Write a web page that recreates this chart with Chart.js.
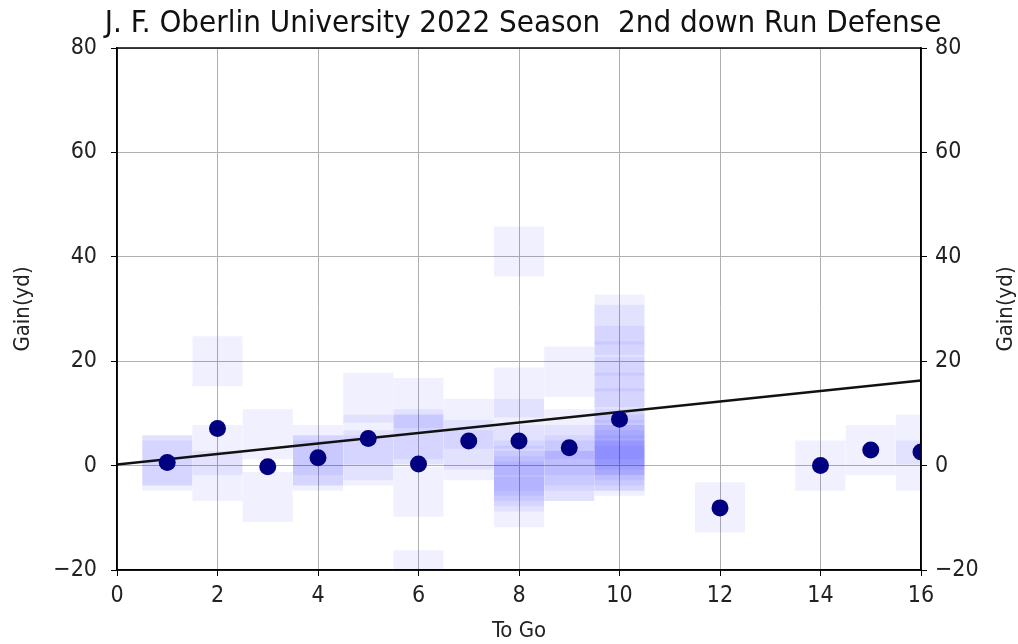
<!DOCTYPE html>
<html>
<head>
<meta charset="utf-8">
<script src="https://cdn.jsdelivr.net/npm/chart.js@4"></script>
<style>
body { margin: 0; background: #fff; }
#wrap { width: 1018px; height: 644px; }
</style>
</head>
<body>
<div id="wrap"><canvas id="runChart" width="1018" height="644"></canvas></div>
<script>
// each play: yards to go and gain
var playToGo = [1, 1, 1,
    2, 2, 2,
    3, 3,
    4, 4, 4, 4,
    5, 5, 5, 5,
    6, 6, 6, 6, 6, 6,
    7, 7, 7,
    8, 8, 8, 8, 8, 8, 8, 8, 8, 8,
    9, 9, 9, 9, 9, 9, 9,
    10, 10, 10, 10, 10, 10, 10, 10, 10, 10, 10, 10, 10, 10, 10, 10, 10,
    12, 14, 15, 16, 16];
var playGain = [1, 1, 0,
    20, 3, -2,
    6, -6,
    3, 1, 1, 0,
    13, 5, 2, 1,
    12, 6, 5, 5, -5, -21,
    8, 4, 2,
    41, 14, 8, 3, 0, -1, -2, -3, -4, -7,
    18, 6, 3, 1, 0, -2, -2,
    28, 26, 22, 19, 16, 13, 10, 6, 5, 4, 3, 3, 2, 1, 0, 0, -1,
    -8, 0, 3, 5, 0];

// average gain per distance
var meanToGo = [1, 2, 3, 4, 5, 6, 7, 8, 9, 10, 12, 14, 15, 16];
var meanGain = [0.6, 7.1, -0.2, 1.5, 5.2, 0.3, 4.7, 4.7, 3.4, 8.9, -8.1, 0, 3, 2.6];

// fitted line end points
var fitToGo = [0, 16];
var fitGain = [0.2, 16.3];

var xTicks = [0, 2, 4, 6, 8, 10, 12, 14, 16];
var yTicks = [-20, 0, 20, 40, 60, 80];

var chartTitle = 'J. F. Oberlin University 2022 Season  2nd down Run Defense';
var FONT = "'DejaVu Sans Condensed', 'DejaVu Sans', sans-serif";

function toPoints(xs, ys) {
    return xs.map(function(x, i) { return { x: x, y: ys[i] }; });
}
function setTicks(list) {
    return function(scale) {
        scale.ticks = list.map(function(v) { return { value: v }; });
    };
}
function minusSign(v) {
    return String(v).replace('-', '\u2212');
}

var framePlugin = {
    id: 'frame',
    afterDraw: function(chart) {
        var a = chart.chartArea;
        var ctx = chart.ctx;
        ctx.save();
        ctx.strokeStyle = '#000';
        ctx.lineWidth = 1.5;
        ctx.strokeRect(a.left, a.top, a.right - a.left, a.bottom - a.top);

        // title centred over the axes
        ctx.fillStyle = '#111';
        ctx.font = '31px ' + FONT;
        ctx.textAlign = 'center';
        ctx.textBaseline = 'middle';
        ctx.fillText(chartTitle, (a.left + a.right) / 2 + 4, 24);

        // right axis title, reading upward like the left one
        ctx.fillStyle = '#222';
        ctx.font = '22px ' + FONT;
        ctx.translate(1006, (a.top + a.bottom) / 2);
        ctx.rotate(-Math.PI / 2);
        ctx.fillText('Gain(yd)', 0, 0);
        ctx.restore();
    }
};

var ctx = document.getElementById('runChart');
new Chart(ctx, {
    type: 'scatter',
    data: {
        datasets: [{
            label: 'plays',
            data: toPoints(playToGo, playGain),
            pointStyle: 'rect',
            pointRadius: 35.4,
            backgroundColor: 'rgba(0, 0, 255, 0.06)',
            borderWidth: 0,
            order: 3
        }, {
            type: 'line',
            label: 'fit',
            data: toPoints(fitToGo, fitGain),
            borderColor: '#111',
            borderWidth: 2.4,
            pointRadius: 0,
            fill: false,
            order: 2
        }, {
            label: 'mean',
            data: toPoints(meanToGo, meanGain),
            pointRadius: 8.5,
            backgroundColor: '#000080',
            borderWidth: 0,
            order: 1
        }]
    },
    options: {
        responsive: false,
        animation: false,
        layout: { padding: { top: 48, left: 0, right: 0, bottom: 0 } },
        plugins: {
            legend: { display: false },
            tooltip: { enabled: false },
            title: { display: false }
        },
        scales: {
            x: {
                type: 'linear',
                min: 0,
                max: 16,
                afterBuildTicks: setTicks(xTicks),
                afterFit: function(s) { s.height = 74; },
                grid: { color: '#b0b0b0', lineWidth: 1, tickColor: '#000', tickLength: 6 },
                border: { color: '#000', width: 1.5 },
                ticks: { color: '#222', font: { family: FONT, size: 23 }, padding: 6, maxRotation: 0 },
                title: { display: true, text: 'To Go', color: '#222', font: { family: FONT, size: 22 }, padding: { top: 2, bottom: 0 } }
            },
            y: {
                type: 'linear',
                position: 'left',
                min: -20,
                max: 80,
                afterBuildTicks: setTicks(yTicks),
                afterFit: function(s) { s.width = 117; },
                grid: { color: '#b0b0b0', lineWidth: 1, tickColor: '#000', tickLength: 6 },
                border: { color: '#000', width: 1.5 },
                ticks: { color: '#222', font: { family: FONT, size: 23 }, padding: 14, callback: minusSign },
                title: { display: true, text: 'Gain(yd)', color: '#222', font: { family: FONT, size: 22 }, padding: { top: 10 } }
            },
            y2: {
                type: 'linear',
                position: 'right',
                min: -20,
                max: 80,
                afterBuildTicks: setTicks(yTicks),
                afterFit: function(s) { s.width = 97; },
                grid: { drawOnChartArea: false, tickColor: '#000', tickLength: 6 },
                border: { color: '#000', width: 1.5 },
                ticks: { color: '#222', font: { family: FONT, size: 23 }, padding: 8, callback: minusSign }
            }
        }
    },
    plugins: [framePlugin]
});
</script>
</body>
</html>
